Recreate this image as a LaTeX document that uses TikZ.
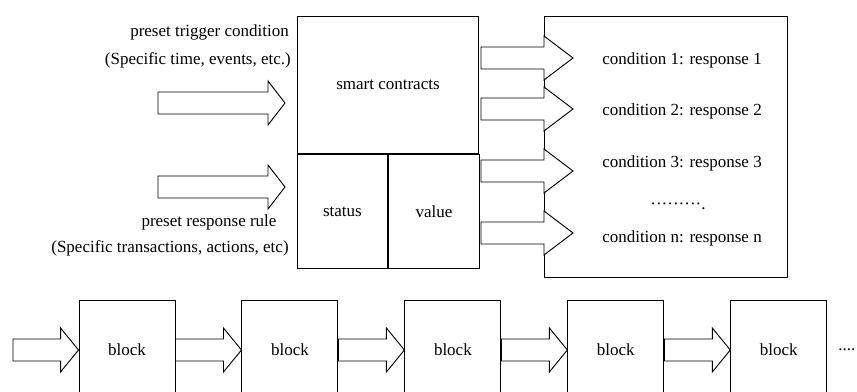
\documentclass[tikz,border=0pt]{standalone}
\usepackage{fontspec}
\setmainfont{Liberation Serif}
\usetikzlibrary{positioning,calc}

\tikzset{
  txt/.style={font=\fontsize{14.5}{17}\selectfont, inner sep=0pt},
  box/.style={txt, draw, line width=0.8pt},
  sz/.style 2 args={minimum width=#1*0.03cm, minimum height=#2*0.03cm},
  block/.style={box, sz={96}{100}},
  fat/.style={draw, line width=0.8pt, fill=white, line join=miter}
}

% wide hollow arrow from #2 to #3, head length #1
\newcommand{\fatedge}[3][17]{%
  \draw[fat] ($(#2)+(0,-11)$) -- ($(#3)+(-#1,-11)$) -- ($(#3)+(-#1,-22)$) -- (#3)
    -- ($(#3)+(-#1,22)$) -- ($(#3)+(-#1,11)$) -- ($(#2)+(0,11)$) -- cycle;}

\begin{document}
\begin{tikzpicture}[x=0.03cm, y=-0.03cm]
  \useasboundingbox (0,0) rectangle (857,392);

  % Contract
  \node[box, sz={181}{137}, anchor=north west] (sc) at (297,16) {smart contracts};
  \node[box, sz={90}{114}, below right=0pt of sc.south west] (status) {status};
  \node[box, sz={91}{114}, right=0pt of status] (value) {value};

  % Inputs
  \node[txt, anchor=east] (trig) at (289,32) {preset trigger condition};
  \node[txt, anchor=east] (trigx) at (291,60) {(Specific time, events, etc.)};
  \node[txt] (rule) at (209,222) {preset response rule};
  \node[txt] (rulex) at (170,248) {(Specific transactions, actions, etc)};
  \coordinate (trigin) at (158,103);
  \coordinate (trigout) at (285,103);
  \coordinate (rulein) at (158,187);
  \coordinate (ruleout) at (285,187);

  % Responses
  \node[box, sz={243}{261}, anchor=north west] (resp) at (544,16) {};
  \node[txt] (c1) at (682,60) {condition 1: response 1};
  \node[txt] (c2) at (682,111) {condition 2: response 2};
  \node[txt] (c3) at (682,163) {condition 3: response 3};
  \node[txt] (cdots) at (678,206) {\textperiodcentered\textperiodcentered\textperiodcentered\textperiodcentered\textperiodcentered\textperiodcentered\textperiodcentered\textperiodcentered\textperiodcentered.};
  \node[txt] (cn) at (682,238) {condition n: response n};

  % Chain
  \node[block] (b1) at (127,350) {block};
  \node[block, right=1.98cm of b1] (b2) {block};
  \node[block, right=1.98cm of b2] (b3) {block};
  \node[block, right=1.98cm of b3] (b4) {block};
  \node[block, right=1.98cm of b4] (b5) {block};
  \node[txt, right=0.33cm of b5] (more) {....};
  \coordinate (chain) at (13,350);

  % Edges
  \fatedge{trigin}{trigout}
  \fatedge{rulein}{ruleout}
  \foreach \y [count=\i] in {58,109,171,233} {
    \coordinate (out\i) at (481,\y);
    \coordinate (in\i) at (573,\y);
    \fatedge[29]{out\i}{in\i}
  }
  \fatedge[18]{chain}{b1.west}
  \fatedge[18]{b1.east}{b2.west}
  \fatedge[18]{b2.east}{b3.west}
  \fatedge[18]{b3.east}{b4.west}
  \fatedge[18]{b4.east}{b5.west}
\end{tikzpicture}
\end{document}
